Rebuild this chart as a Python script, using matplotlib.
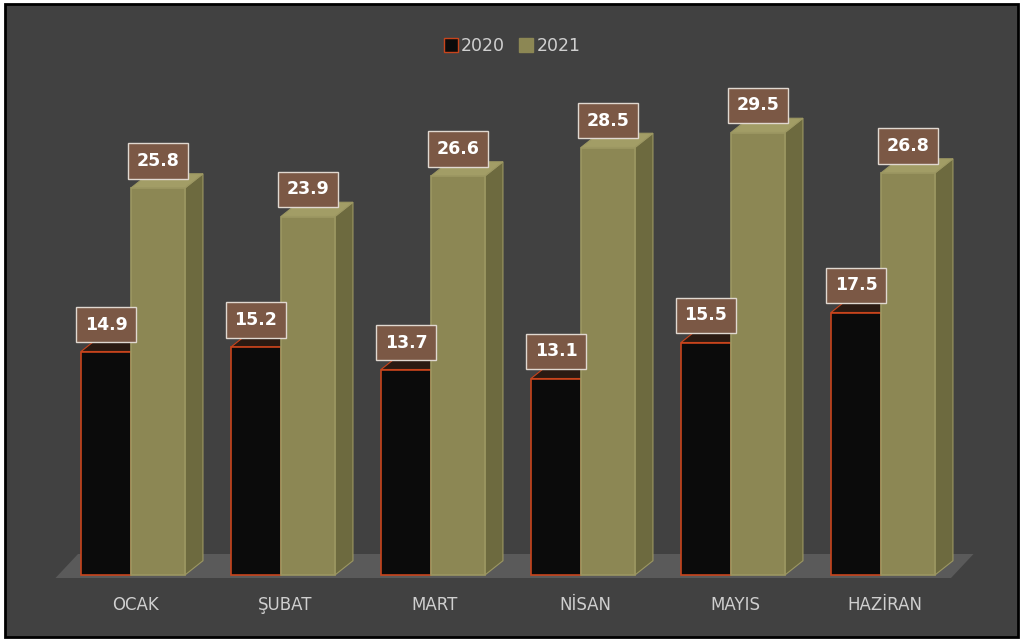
import matplotlib.pyplot as plt
from matplotlib.patches import Rectangle, Polygon, Patch

months = ["OCAK", "ŞUBAT", "MART", "NİSAN", "MAYIS", "HAZİRAN"]
values_2020 = [14.9, 15.2, 13.7, 13.1, 15.5, 17.5]
values_2021 = [25.8, 23.9, 26.6, 28.5, 29.5, 26.8]
series_names = ["2020", "2021"]

bg = "#414141"
black_face = "#0b0b0b"
black_edge = "#c8441c"
olive_front = "#8c8754"
olive_side = "#6d6a3f"
olive_top = "#a29d66"
label_box = "#7b5845"

fig = plt.figure(figsize=(10.23, 6.41), dpi=100, facecolor="white")
fig.patches.append(Rectangle((5 / 1023, 4 / 641), 1013 / 1023, 633 / 641,
                             transform=fig.transFigure, facecolor=bg,
                             edgecolor="black", linewidth=2, zorder=-10))

ax = fig.add_axes([20 / 1023, 21 / 641, 983 / 1023, 600 / 641])
ax.set_facecolor("none")
ax.set_xlim(-0.4067, 6.1467)
ax.set_ylim(-3, 37)
ax.axis("off")

w_black = 0.333
w_olive = 0.36
dx = 0.12   # Tiefe nach rechts
dy = 0.95   # Tiefe nach oben

# Boden
floor = Polygon([(-0.17, -0.2), (5.8, -0.2), (5.8 + 0.15, 1.4), (-0.02, 1.4)],
                closed=True, facecolor="#5a5a5a", edgecolor="none", zorder=1)
ax.add_patch(floor)


def bar3d(x0, w, v, front, side, top, edge, z):
    x1 = x0 + w
    ax.add_patch(Polygon([(x1, 0), (x1 + dx, dy), (x1 + dx, v + dy), (x1, v)],
                         closed=True, facecolor=side, edgecolor=edge, lw=0.8, zorder=z))
    ax.add_patch(Polygon([(x0, v), (x0 + dx, v + dy), (x1 + dx, v + dy), (x1, v)],
                         closed=True, facecolor=top, edgecolor=edge, lw=0.8, zorder=z))
    ax.add_patch(Rectangle((x0, 0), w, v, facecolor=front, edgecolor=edge,
                           lw=1.2, zorder=z + 0.1))


def value_label(xc, v):
    ax.text(xc, v + 1.8, f"{v:.1f}", ha="center", va="center", color="white",
            fontsize=12.5, fontweight="bold", zorder=10,
            bbox=dict(boxstyle="square,pad=0.5", facecolor=label_box,
                      edgecolor="#e0d8d0", linewidth=1))


for i, (a, b) in enumerate(zip(values_2020, values_2021)):
    xb = i
    xo = i + w_black
    bar3d(xb, w_black, a, black_face, "#1a1a1a", "#2a1a12", black_edge, 3)
    bar3d(xo, w_olive, b, olive_front, olive_side, olive_top, "#9c9762", 4)
    value_label(xb + w_black / 2, a)
    value_label(xo + w_olive / 2, b)
    ax.text(i + 0.36, -2.0, months[i], ha="center", va="center",
            color="#cfcfcf", fontsize=12, zorder=10)

handles = [Patch(facecolor=black_face, edgecolor=black_edge, label=series_names[0]),
           Patch(facecolor=olive_front, edgecolor=olive_front, label=series_names[1])]
leg = fig.legend(handles=handles, loc="center", bbox_to_anchor=(512 / 1023, 1 - 46 / 641),
                 ncol=2, frameon=False, handlelength=0.8, handleheight=0.8,
                 handletextpad=0.2, columnspacing=0.8, fontsize=12.5,
                 labelcolor="#d0d0d0")

fig.savefig("out.png", dpi=100, facecolor=fig.get_facecolor())
